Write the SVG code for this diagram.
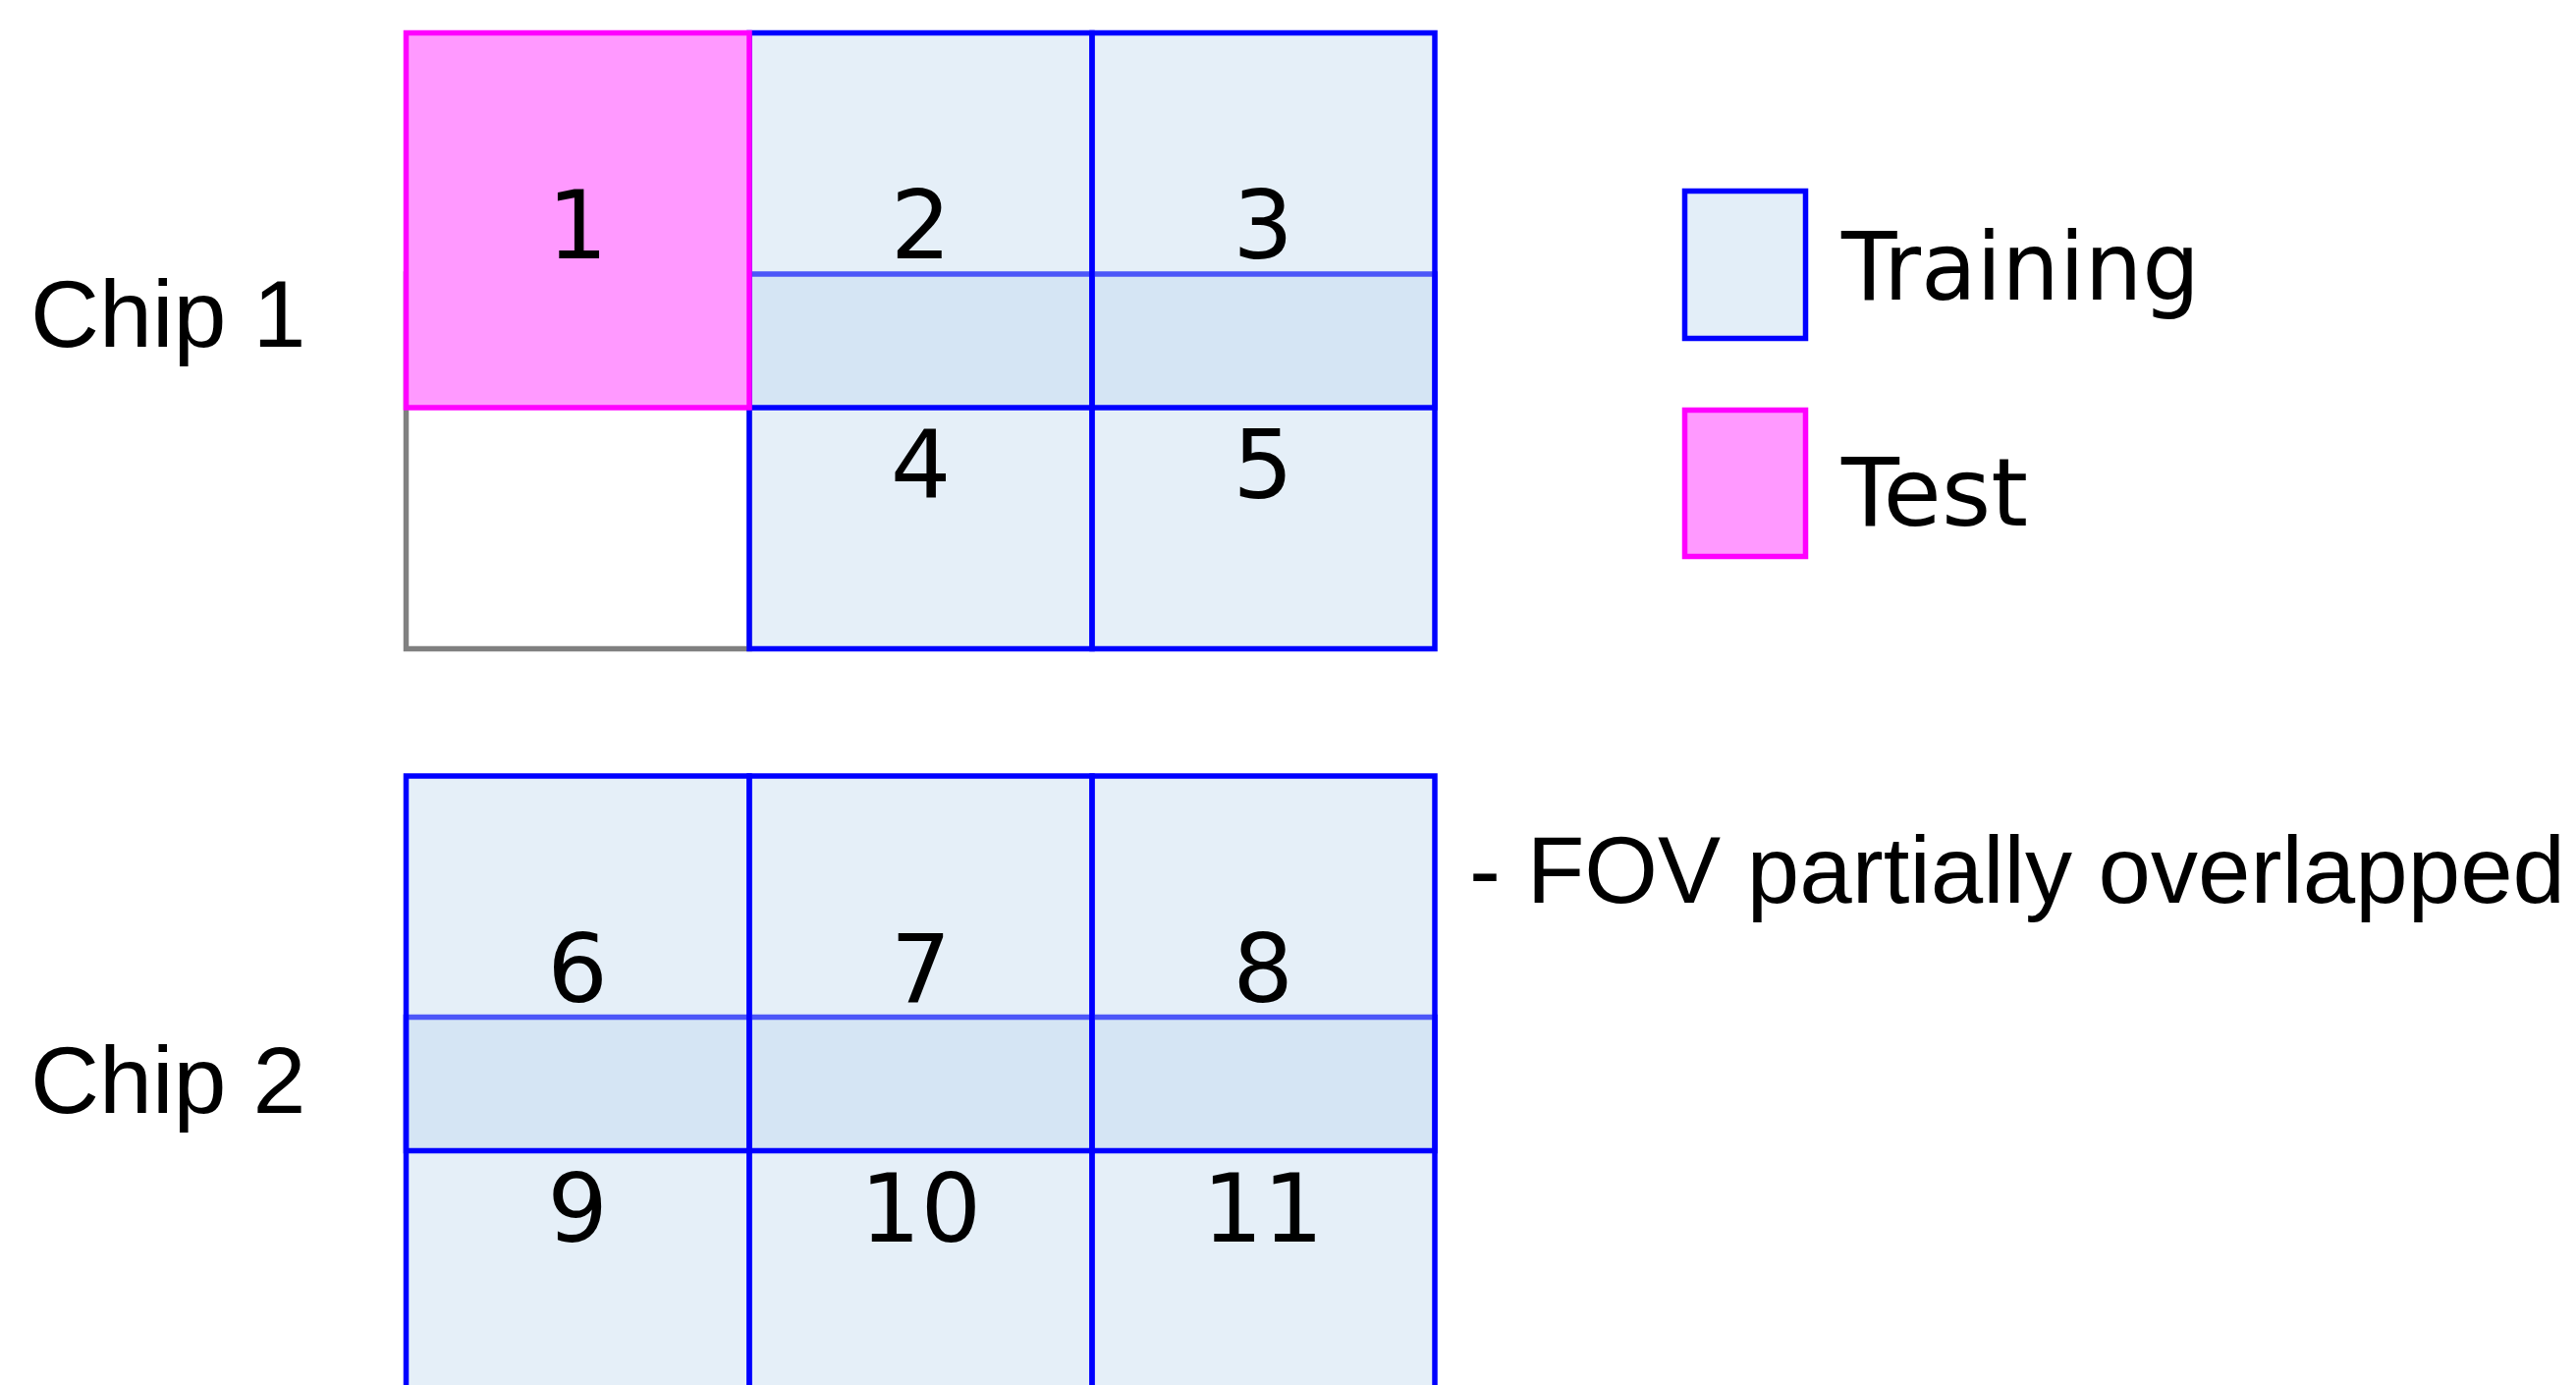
<svg xmlns="http://www.w3.org/2000/svg" width="2623" height="1410" viewBox="0 0 2623 1410">
<style>
.bg{fill:#ffffff}
.train{fill:#BDD7EE;fill-opacity:0.4;stroke:#0000FF;stroke-width:5.5}
.test{fill:#FF99FF;stroke:#FF00FF;stroke-width:5.5}
.empty{fill:none;stroke:#808080;stroke-width:5.5}
.num{font-family:"DejaVu Sans",Verdana,sans-serif;font-size:97px;fill:#000;text-anchor:middle}
.lbl{font-family:"Liberation Sans",Arial,sans-serif;font-size:97px;fill:#000}
.leg{font-family:"DejaVu Sans",Verdana,sans-serif;font-size:97px;fill:#000}
</style>
<rect class="bg" x="0" y="0" width="2623" height="1410"/>
<g id="chip1">
  <g id="cell-empty"><rect class="empty" x="413.5" y="279" width="349.5" height="381.5"/></g>
  <g id="cell4"><rect class="train" x="763" y="279" width="349" height="381.5"/><text class="num" x="937.5" y="507">4</text></g>
  <g id="cell5"><rect class="train" x="1112" y="279" width="349" height="381.5"/><text class="num" x="1286" y="507">5</text></g>
  <g id="cell2"><rect class="train" x="763" y="33.5" width="349" height="381.5"/><text class="num" x="937.5" y="263">2</text></g>
  <g id="cell3"><rect class="train" x="1112" y="33.5" width="349" height="381.5"/><text class="num" x="1286" y="263">3</text></g>
  <g id="cell1"><rect class="test" x="413.5" y="33.5" width="349.5" height="381.5"/><text class="num" x="588" y="263">1</text></g>
  <g id="chip1-label"><text class="lbl" x="31" y="353">Chip 1</text></g>
</g>
<g id="chip2">
  <g id="cell9"><rect class="train" x="413.5" y="1035.5" width="349.5" height="381.5"/><text class="num" x="588" y="1263.5">9</text></g>
  <g id="cell10"><rect class="train" x="763" y="1035.5" width="349" height="381.5"/><text class="num" x="937.5" y="1263.5">10</text></g>
  <g id="cell11"><rect class="train" x="1112" y="1035.5" width="349" height="381.5"/><text class="num" x="1286" y="1263.5">11</text></g>
  <g id="cell6"><rect class="train" x="413.5" y="790" width="349.5" height="381.5"/><text class="num" x="588" y="1019.5">6</text></g>
  <g id="cell7"><rect class="train" x="763" y="790" width="349" height="381.5"/><text class="num" x="937.5" y="1019.5">7</text></g>
  <g id="cell8"><rect class="train" x="1112" y="790" width="349" height="381.5"/><text class="num" x="1286" y="1019.5">8</text></g>
  <g id="chip2-label"><text class="lbl" x="31" y="1133">Chip 2</text></g>
</g>
<g id="legend">
  <g id="legend-training"><rect x="1715.5" y="194.5" width="123" height="150" fill="#E3EEF8" stroke="#0000FF" stroke-width="5.5"/><text class="leg" x="1875" y="305" textLength="365" lengthAdjust="spacingAndGlyphs">Training</text></g>
  <g id="legend-test"><rect class="test" x="1715.5" y="417.5" width="123" height="149"/><text class="leg" x="1875" y="535" textLength="190" lengthAdjust="spacingAndGlyphs">Test</text></g>
</g>
<g id="note"><text class="lbl" x="1496" y="919" font-size="95" textLength="1116" lengthAdjust="spacingAndGlyphs">- FOV partially overlapped</text></g>
<g id="connectors"></g>
</svg>
